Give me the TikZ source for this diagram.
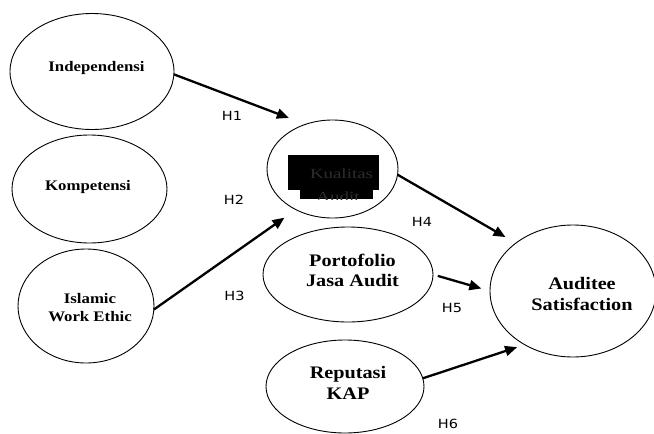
\documentclass[tikz,border=0pt]{standalone}
\usepackage{fontspec}
\setmainfont{Liberation Serif}
\newfontfamily\nodefont[FakeStretch=1.15]{Liberation Serif}
\newfontfamily\kualfont[FakeStretch=1.35]{Liberation Serif}
\newfontfamily\labfont[FakeStretch=1.15]{DejaVu Sans}
\usetikzlibrary{shapes.geometric,arrows.meta}
\begin{document}
\begin{tikzpicture}[x=1pt,y=-1pt,
  oval/.style={ellipse,draw,line width=0.9pt,inner sep=0pt,outer sep=0pt},
  smalltxt/.style={font=\nodefont\fontsize{14.6}{18}\selectfont\bfseries,align=center,inner sep=0pt},
  bigtxt/.style={font=\nodefont\fontsize{17.6}{20.5}\selectfont\bfseries,align=center,inner sep=0pt},
  hlab/.style={font=\labfont\fontsize{12.6}{14}\selectfont,anchor=base,inner sep=0pt},
  kualtxt/.style={font=\kualfont\fontsize{14}{16}\selectfont,text=gray!35!black,anchor=base,inner sep=0pt},
  arr/.style={line width=2.3pt,-{Triangle[length=12pt,width=10pt]}}]
\useasboundingbox (0,0) rectangle (654,434);
\fill[white] (0,0) rectangle (654,434);

% ellipses
\node[oval,minimum width=164pt,minimum height=116pt] (ind) at (92,71.5) {};
\node[oval,minimum width=155pt,minimum height=108pt] (komp) at (89.5,189) {};
\node[oval,minimum width=136pt,minimum height=114pt] (iwe) at (86,306) {};
\node[oval,minimum width=131pt,minimum height=98pt] (kual) at (332.5,169) {};
\node[oval,minimum width=170pt,minimum height=95pt] (port) at (348,274.5) {};
\node[oval,minimum width=158pt,minimum height=93pt] (rep) at (345,386.5) {};
\node[oval,minimum width=166pt,minimum height=132pt] (sat) at (573,291) {};

% texts
\node[smalltxt,anchor=base] (tind) at (96.5,71) {Independensi};
\node[smalltxt,anchor=base] (tkomp) at (88,190) {Kompetensi};
\node[smalltxt] (tiwe) at (90,308) {Islamic\\Work Ethic};
\node[bigtxt] (tport) at (352.5,270.5) {Portofolio\\Jasa Audit};
\node[bigtxt] (trep) at (348,383) {Reputasi\\KAP};
\node[bigtxt] (tsat) at (582,294) {Auditee\\Satisfaction};

% Kualitas Audit (black boxes)
\fill[black] (288,155) rectangle (379,190);
\fill[black] (300,190) rectangle (373,199);
\node[kualtxt] (tkual) at (341.5,178) {Kualitas};
\begin{scope}
  \clip (300,186) rectangle (373,199);
  \node[kualtxt] (taudit) at (338,201) {Audit};
\end{scope}

% arrows
\draw[arr,shorten >=18pt] (ind.-2) -- (kual.121);
\draw[arr,shorten >=14pt] (iwe.-3) -- (kual.228);
\draw[arr,shorten >=12pt] (kual.-5) -- (sat.140);
\draw[arr,shorten <=5pt,shorten >=9pt] (port.0) -- (sat.180);
\draw[arr,shorten >=8pt] (rep.6) -- (sat.228);

% labels
\node[hlab] (h1) at (232,120) {H1};
\node[hlab] (h2) at (234,204) {H2};
\node[hlab] (h3) at (234.5,300) {H3};
\node[hlab] (h4) at (422,226) {H4};
\node[hlab] (h5) at (452,312.5) {H5};
\node[hlab] (h6) at (448,428) {H6};
\end{tikzpicture}
\end{document}
